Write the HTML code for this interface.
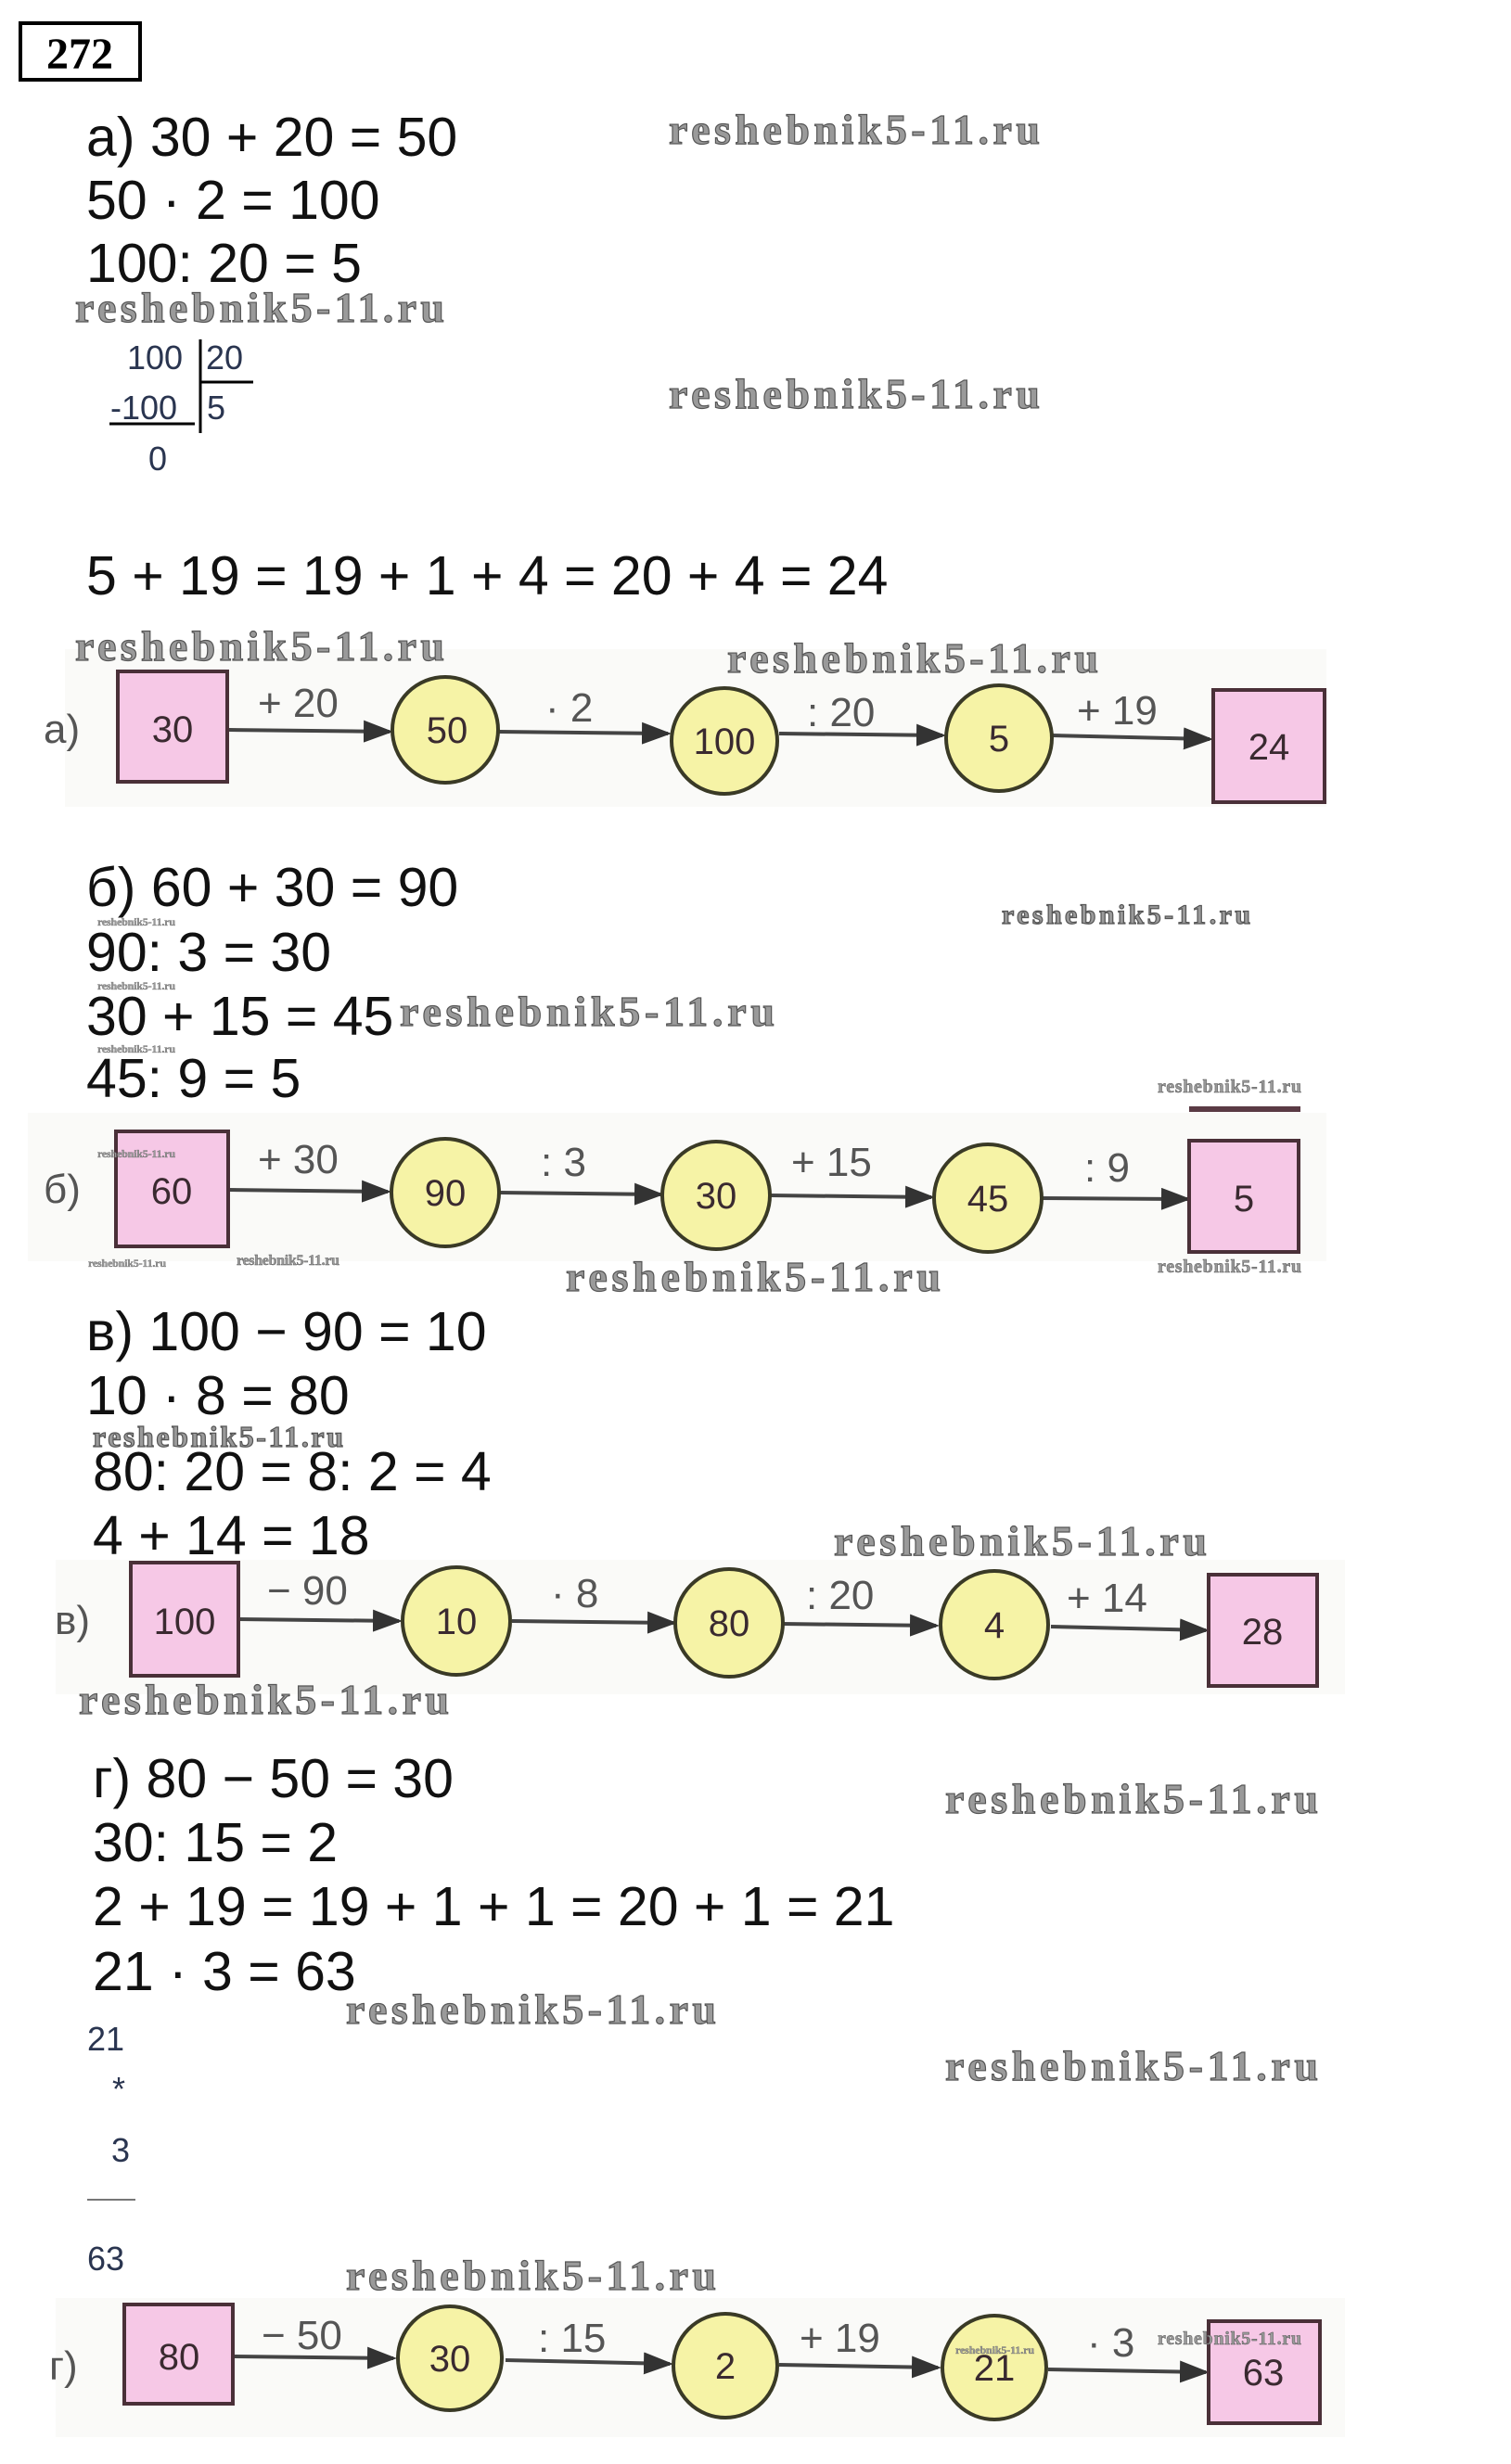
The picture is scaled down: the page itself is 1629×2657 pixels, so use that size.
<!DOCTYPE html>
<html><head><meta charset="utf-8"><style>
html,body{margin:0;padding:0;background:#fff;}
svg{display:block;}
.eq{font-family:"Liberation Sans Narrow","Liberation Sans",sans-serif;font-size:59px;fill:#111;}
.wm{font-family:"Liberation Serif",serif;font-weight:bold;fill:#9a9a9a;stroke:#555;stroke-width:1.2px;}
.nd{font-family:"Liberation Sans",sans-serif;font-size:40px;fill:#3a2a30;text-anchor:middle;}
.lb{font-family:"Liberation Sans",sans-serif;font-size:44px;fill:#555;}
.dv{font-family:"Liberation Sans",sans-serif;font-size:36px;fill:#2a3550;}
.bx{fill:#f6c8e6;stroke:#4a3038;stroke-width:4;}
.cr{fill:#f6f3a6;stroke:#3a3a26;stroke-width:4;}
.ar{stroke:#444;stroke-width:4;}
.bg{fill:#fafaf8;}
</style></head><body>
<svg width="1629" height="2657" viewBox="0 0 1629 2657" xmlns="http://www.w3.org/2000/svg">
<defs><marker id="ah" markerWidth="8" markerHeight="6" refX="7" refY="3" orient="auto" markerUnits="strokeWidth"><path d="M0,0 L8,3 L0,6 Z" fill="#333"/></marker></defs>

<rect x="22" y="25" width="129" height="61" fill="none" stroke="#000" stroke-width="4"/>
<text x="86" y="74" text-anchor="middle" style="font-family:'Liberation Serif',serif;font-weight:bold;font-size:48px">272</text>

<text class="eq" x="93" y="168">a) 30 + 20 = 50</text>
<text class="eq" x="93" y="236">50 · 2 = 100</text>
<text class="eq" x="93" y="304">100: 20 = 5</text>
<text class="wm" x="721" y="155" font-size="46" textLength="400">reshebnik5-11.ru</text>
<text class="wm" x="81" y="347" font-size="46" textLength="398">reshebnik5-11.ru</text>
<text class="wm" x="721" y="440" font-size="46" textLength="400">reshebnik5-11.ru</text>
<text class="dv" x="137" y="398">100</text>
<text class="dv" x="222" y="398">20</text>
<text class="dv" x="119" y="452">-100</text>
<text class="dv" x="223" y="452">5</text>
<text class="dv" x="160" y="507">0</text>
<line x1="216" y1="366" x2="216" y2="467" stroke="#000" stroke-width="3"/>
<line x1="216" y1="412" x2="273" y2="412" stroke="#000" stroke-width="3"/>
<line x1="118" y1="457" x2="210" y2="457" stroke="#000" stroke-width="3"/>
<text class="eq" x="93" y="641">5 + 19 = 19 + 1 + 4 = 20 + 4 = 24</text>

<rect class="bg" x="70" y="700" width="1360" height="170"/>
<text class="wm" x="81" y="712" font-size="46" textLength="398">reshebnik5-11.ru</text>
<text class="wm" x="784" y="725" font-size="46" textLength="400">reshebnik5-11.ru</text>
<text class="lb" x="47" y="801">a)</text>
<line class="ar" x1="247" y1="787" x2="420" y2="789" marker-end="url(#ah)"/>
<line class="ar" x1="537" y1="789" x2="720" y2="791" marker-end="url(#ah)"/>
<line class="ar" x1="840" y1="791" x2="1016" y2="793" marker-end="url(#ah)"/>
<line class="ar" x1="1134" y1="793" x2="1304" y2="797" marker-end="url(#ah)"/>
<rect class="bx" x="127" y="724" width="118" height="119"/>
<circle class="cr" cx="480" cy="787" r="57"/>
<circle class="cr" cx="781" cy="799" r="57"/>
<circle class="cr" cx="1077" cy="796" r="57"/>
<rect class="bx" x="1308" y="744" width="120" height="121"/>
<text class="nd" x="186" y="800" font-size="46">30</text>
<text class="nd" x="482" y="801">50</text>
<text class="nd" x="781" y="813">100</text>
<text class="nd" x="1077" y="810">5</text>
<text class="nd" x="1368" y="819">24</text>
<text class="lb" x="278" y="773">+ 20</text>
<text class="lb" x="588" y="778">· 2</text>
<text class="lb" x="870" y="783">: 20</text>
<text class="lb" x="1161" y="781">+ 19</text>

<text class="eq" x="93" y="977">б) 60 + 30 = 90</text>
<text class="eq" x="93" y="1047">90: 3 = 30</text>
<text class="eq" x="93" y="1116">30 + 15 = 45</text>
<text class="eq" x="93" y="1183">45: 9 = 5</text>
<text class="wm" x="431" y="1106" font-size="46" textLength="404">reshebnik5-11.ru</text>
<text class="wm" x="1080" y="996" font-size="30" textLength="268">reshebnik5-11.ru</text>
<text class="wm" x="105" y="998" font-size="12" textLength="84" style="stroke-width:0.3">reshebnik5-11.ru</text>
<text class="wm" x="105" y="1067" font-size="12" textLength="84" style="stroke-width:0.3">reshebnik5-11.ru</text>
<text class="wm" x="105" y="1135" font-size="12" textLength="84" style="stroke-width:0.3">reshebnik5-11.ru</text>
<text class="wm" x="1248" y="1178" font-size="20" textLength="155" style="stroke-width:0.5">reshebnik5-11.ru</text>
<rect class="bg" x="30" y="1200" width="1400" height="160"/>
<rect x="1282" y="1193" width="120" height="6" fill="#5a3a44"/>
<text class="lb" x="47" y="1297">б)</text>
<line class="ar" x1="246" y1="1283" x2="418" y2="1285" marker-end="url(#ah)"/>
<line class="ar" x1="538" y1="1286" x2="712" y2="1288" marker-end="url(#ah)"/>
<line class="ar" x1="830" y1="1289" x2="1004" y2="1291" marker-end="url(#ah)"/>
<line class="ar" x1="1122" y1="1292" x2="1280" y2="1293" marker-end="url(#ah)"/>
<rect class="bx" x="125" y="1220" width="121" height="124"/>
<circle class="cr" cx="480" cy="1286" r="58"/>
<circle class="cr" cx="772" cy="1289" r="58"/>
<circle class="cr" cx="1065" cy="1292" r="58"/>
<rect class="bx" x="1282" y="1230" width="118" height="120"/>
<text class="nd" x="185" y="1298" font-size="46">60</text>
<text class="nd" x="480" y="1300">90</text>
<text class="nd" x="772" y="1303">30</text>
<text class="nd" x="1065" y="1306">45</text>
<text class="nd" x="1341" y="1306" font-size="44">5</text>
<text class="lb" x="278" y="1265">+ 30</text>
<text class="lb" x="583" y="1268">: 3</text>
<text class="lb" x="853" y="1268">+ 15</text>
<text class="lb" x="1169" y="1274">: 9</text>
<text class="wm" x="105" y="1248" font-size="12" textLength="84" style="stroke-width:0.3">reshebnik5-11.ru</text>
<text class="wm" x="95" y="1366" font-size="12" textLength="84" style="stroke-width:0.3">reshebnik5-11.ru</text>
<text class="wm" x="255" y="1364" font-size="16" textLength="111" style="stroke-width:0.4">reshebnik5-11.ru</text>
<text class="wm" x="610" y="1392" font-size="46" textLength="404">reshebnik5-11.ru</text>
<text class="wm" x="1248" y="1372" font-size="20" textLength="155" style="stroke-width:0.5">reshebnik5-11.ru</text>

<text class="eq" x="93" y="1456">в) 100 − 90 = 10</text>
<text class="eq" x="93" y="1525">10 · 8 = 80</text>
<text class="wm" x="100" y="1560" font-size="32" textLength="270">reshebnik5-11.ru</text>
<text class="eq" x="100" y="1607">80: 20 = 8: 2 = 4</text>
<text class="eq" x="100" y="1676">4 + 14 = 18</text>
<text class="wm" x="899" y="1677" font-size="46" textLength="402">reshebnik5-11.ru</text>
<rect class="bg" x="60" y="1682" width="1390" height="145"/>
<text class="lb" x="59" y="1762">в)</text>
<line class="ar" x1="257" y1="1746" x2="430" y2="1748" marker-end="url(#ah)"/>
<line class="ar" x1="552" y1="1748" x2="726" y2="1750" marker-end="url(#ah)"/>
<line class="ar" x1="843" y1="1751" x2="1009" y2="1753" marker-end="url(#ah)"/>
<line class="ar" x1="1133" y1="1754" x2="1300" y2="1758" marker-end="url(#ah)"/>
<rect class="bx" x="141" y="1685" width="116" height="122"/>
<circle class="cr" cx="492" cy="1748" r="58"/>
<circle class="cr" cx="786" cy="1750" r="58"/>
<circle class="cr" cx="1072" cy="1752" r="58"/>
<rect class="bx" x="1303" y="1698" width="117" height="120"/>
<text class="nd" x="199" y="1762" font-size="46">100</text>
<text class="nd" x="492" y="1762">10</text>
<text class="nd" x="786" y="1764">80</text>
<text class="nd" x="1072" y="1766">4</text>
<text class="nd" x="1361" y="1773">28</text>
<text class="lb" x="288" y="1730">− 90</text>
<text class="lb" x="594" y="1733">· 8</text>
<text class="lb" x="869" y="1735">: 20</text>
<text class="lb" x="1150" y="1738">+ 14</text>
<text class="wm" x="85" y="1848" font-size="46" textLength="399">reshebnik5-11.ru</text>

<text class="eq" x="100" y="1938">г) 80 − 50 = 30</text>
<text class="wm" x="1019" y="1955" font-size="46" textLength="402">reshebnik5-11.ru</text>
<text class="eq" x="100" y="2007">30: 15 = 2</text>
<text class="eq" x="100" y="2076">2 + 19 = 19 + 1 + 1 = 20 + 1 = 21</text>
<text class="eq" x="100" y="2146">21 · 3 = 63</text>
<text class="wm" x="373" y="2182" font-size="46" textLength="399">reshebnik5-11.ru</text>
<text class="dv" x="94" y="2211" font-size="40">21</text>
<text class="dv" x="121" y="2265" font-size="32">*</text>
<text class="dv" x="120" y="2331" font-size="36">3</text>
<line x1="94" y1="2372" x2="146" y2="2372" stroke="#777" stroke-width="2"/>
<text class="dv" x="94" y="2448" font-size="40">63</text>
<text class="wm" x="1019" y="2243" font-size="46" textLength="402">reshebnik5-11.ru</text>
<text class="wm" x="373" y="2469" font-size="46" textLength="399">reshebnik5-11.ru</text>
<rect class="bg" x="60" y="2478" width="1390" height="150"/>
<text class="lb" x="53" y="2566">г)</text>
<line class="ar" x1="251" y1="2541" x2="424" y2="2543" marker-end="url(#ah)"/>
<line class="ar" x1="545" y1="2545" x2="722" y2="2549" marker-end="url(#ah)"/>
<line class="ar" x1="840" y1="2550" x2="1011" y2="2553" marker-end="url(#ah)"/>
<line class="ar" x1="1130" y1="2555" x2="1300" y2="2558" marker-end="url(#ah)"/>
<rect class="bx" x="134" y="2485" width="117" height="107"/>
<circle class="cr" cx="485" cy="2543" r="56"/>
<circle class="cr" cx="782" cy="2551" r="56"/>
<circle class="cr" cx="1072" cy="2553" r="56"/>
<rect class="bx" x="1303" y="2503" width="120" height="110"/>
<text class="nd" x="193" y="2555" font-size="46">80</text>
<text class="nd" x="485" y="2557">30</text>
<text class="nd" x="782" y="2565">2</text>
<text class="nd" x="1072" y="2567">21</text>
<text class="nd" x="1362" y="2572">63</text>
<text class="lb" x="282" y="2533">− 50</text>
<text class="lb" x="580" y="2536">: 15</text>
<text class="lb" x="862" y="2536">+ 19</text>
<text class="lb" x="1172" y="2541">· 3</text>
<text class="wm" x="1030" y="2538" font-size="12" textLength="85" style="stroke-width:0.3">reshebnik5-11.ru</text>
<text class="wm" x="1248" y="2528" font-size="20" textLength="155" style="stroke-width:0.5">reshebnik5-11.ru</text>
</svg>
</body></html>
